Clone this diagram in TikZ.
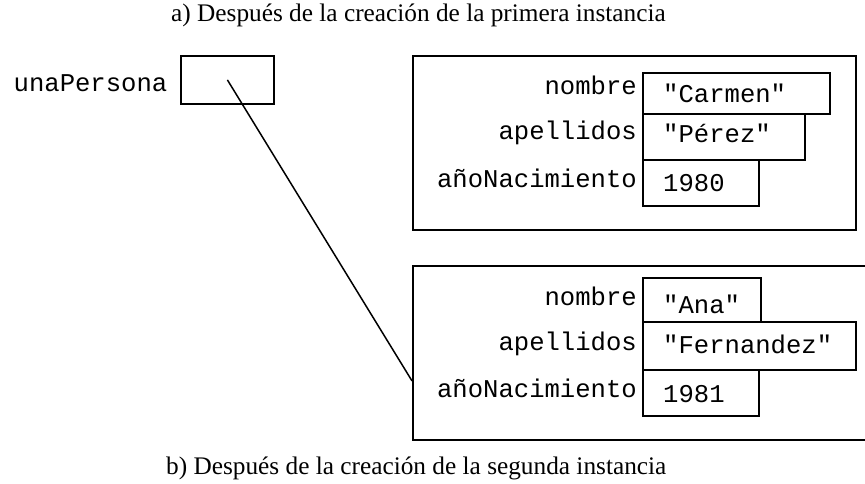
\documentclass[tikz,border=0pt]{standalone}
\usepackage{fontspec}
\setmainfont{Liberation Serif}
\setmonofont{Liberation Mono}

\begin{document}
\begin{tikzpicture}[x = 1pt , y = -1pt ,
    caja/.style = {draw , line width = 1.8pt , inner sep = 0pt , anchor = north west},
    campo/.style = {font = \fontsize{25.6}{30}\selectfont\ttfamily , inner sep = 0pt , anchor = base east},
    valor/.style = {font = \fontsize{25.6}{30}\selectfont\ttfamily , inner sep = 0pt , anchor = base west},
    titulo/.style = {font = \fontsize{25.3}{29}\selectfont , inner sep = 0pt , anchor = base west}]
    \useasboundingbox (0,0) rectangle (865,484);
    \clip (0,0) rectangle (865,484);

    \node[titulo] (tituloA) at (171,22) {a) Después de la creación de la primera instancia}; % Titulo
    \node[titulo] (tituloB) at (166,474) {b) Después de la creación de la segunda instancia}; % Titulo

    \node[caja , minimum width = 93pt , minimum height = 48pt] (ref) at (180,55) {}; % Referencia
    \node[campo] (refNombre) at (167.5,92) {unaPersona};

    \node[caja , minimum width = 443pt , minimum height = 174pt] (obj1) at (412,55) {}; % Primera instancia
    \node[caja , minimum width = 187pt , minimum height = 41pt] (nombre1) at (642,72) {};
    \node[caja , minimum width = 162pt , minimum height = 46pt] (apellidos1) at (642,113) {};
    \node[caja , minimum width = 116pt , minimum height = 46pt] (anio1) at (642,159) {};
    \node[campo] (campoNombre1) at (637,95) {nombre};
    \node[campo] (campoApellidos1) at (637,140) {apellidos};
    \node[campo] (campoAnio1) at (637,187) {añoNacimiento};
    \node[valor] (valorNombre1) at (663,103) {"Carmen"};
    \node[valor] (valorApellidos1) at (663,143) {"Pérez"};
    \node[valor] (valorAnio1) at (663,192) {1980};

    \node[caja , minimum width = 470pt , minimum height = 174pt] (obj2) at (412,265) {}; % Segunda instancia
    \node[caja , minimum width = 118pt , minimum height = 44pt] (nombre2) at (642,277) {};
    \node[caja , minimum width = 213pt , minimum height = 48pt] (apellidos2) at (642,321) {};
    \node[caja , minimum width = 116pt , minimum height = 46pt] (anio2) at (642,369) {};
    \node[campo] (campoNombre2) at (637,305) {nombre};
    \node[campo] (campoApellidos2) at (637,350) {apellidos};
    \node[campo] (campoAnio2) at (637,397) {añoNacimiento};
    \node[valor] (valorNombre2) at (663,313) {"Ana"};
    \node[valor] (valorApellidos2) at (663,353) {"Fernandez"};
    \node[valor] (valorAnio2) at (663,402) {1981};

    \coordinate (destino) at ([yshift = -28pt]obj2.west); % Punta de la flecha
    \draw[line width = 1.5pt] (ref.center) -- (destino);
\end{tikzpicture}
\end{document}
